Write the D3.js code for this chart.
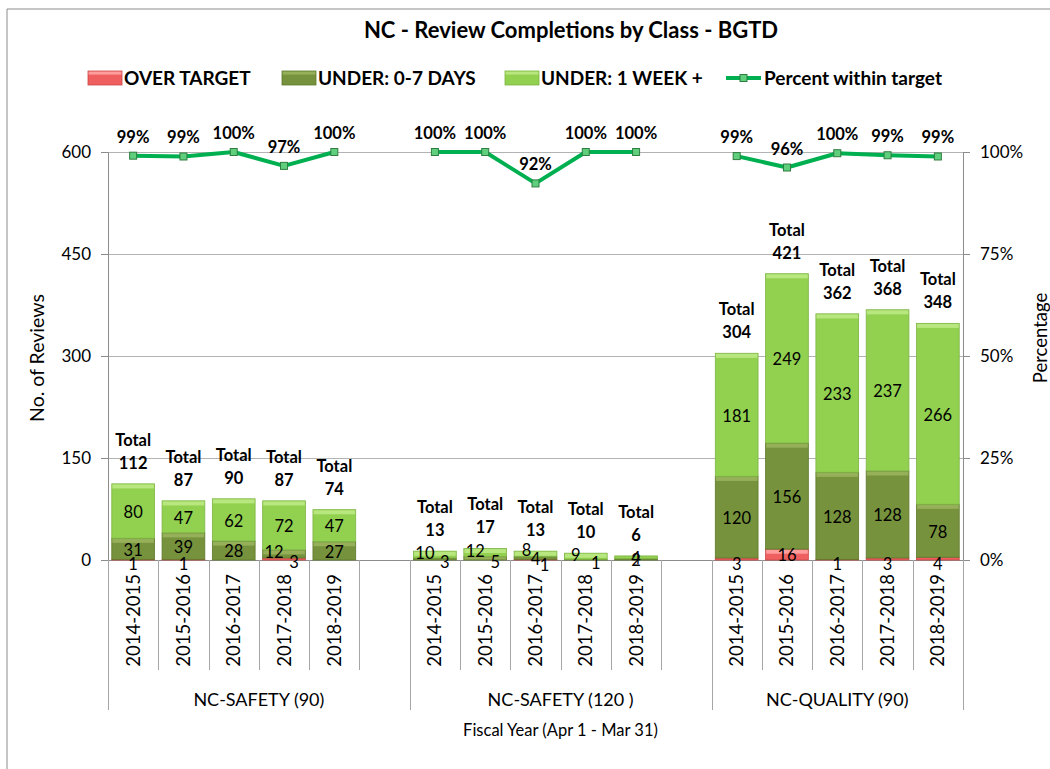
<!DOCTYPE html>
<html>
<head>
<meta charset="utf-8">
<script src="https://cdn.jsdelivr.net/npm/d3@7"></script>
<style>
  html, body { margin: 0; padding: 0; background: #fff; }
  svg { display: block; }
  text { font-family: Lato, "Liberation Sans", sans-serif; fill: #000; }
</style>
</head>
<body>
<svg id="chart" width="1050" height="769"></svg>
<script>
// ---------------- data ----------------
const groups = ["NC-SAFETY (90)", "NC-SAFETY (120 )", "NC-QUALITY (90)"];
const years = ["2014-2015", "2015-2016", "2016-2017", "2017-2018", "2018-2019"];
const seriesNames = ["OVER TARGET", "UNDER: 0-7 DAYS", "UNDER: 1 WEEK +"];
const lineName = "Percent within target";
const overTarget = [1, 1, 0, 3, 0,   0, 0, 1, 0, 0,   3, 16, 1, 3, 4];
const under07    = [31, 39, 28, 12, 27,   3, 5, 4, 1, 2,   120, 156, 128, 128, 78];
const underWeek  = [80, 47, 62, 72, 47,   10, 12, 8, 9, 4,   181, 249, 233, 237, 266];
const totals     = [112, 87, 90, 87, 74,   13, 17, 13, 10, 6,   304, 421, 362, 368, 348];
const pctWithin  = [0.991, 0.989, 1.0, 0.966, 1.0,   1.0, 1.0, 0.923, 1.0, 1.0,   0.990, 0.962, 0.997, 0.992, 0.989];
const pctLabels  = ["99%", "99%", "100%", "97%", "100%",   "100%", "100%", "92%", "100%", "100%",   "99%", "96%", "100%", "99%", "99%"];
const leftTicks = [0, 150, 300, 450, 600];
const rightTicks = [0, 0.25, 0.5, 0.75, 1];

// ---------------- layout ----------------
const svg = d3.select("#chart");
const W = 1050, H = 769;
const plot = { left: 108, right: 963, top: 152, bottom: 560 };

const colors = [
  { body: "#ef5f5f", top: "#ff9d9d", stroke: "#c84848" },
  { body: "#76923c", top: "#96b05a", stroke: "#5f7a2c" },
  { body: "#92d050", top: "#b7e77e", stroke: "#7db543" }
];
const lineColor = "#00b050";

// frame
svg.append("path").attr("d", `M7,${H} V9 H${W}`).attr("fill", "none").attr("stroke", "#8c8c8c").attr("stroke-width", 1);

// slots: 5 per group + 1 empty gap slot after groups 0 and 1
const slotCount = groups.length * 6 - 1;
const slotKeys = d3.range(slotCount);
const x = d3.scaleBand().domain(slotKeys).range([plot.left, plot.right]).paddingInner(0.15).paddingOuter(0.075);
const y = d3.scaleLinear().domain([0, 600]).range([plot.bottom, plot.top]);
const yp = d3.scaleLinear().domain([0, 1]).range([plot.bottom, plot.top]);

const items = [];
groups.forEach((g, gi) => years.forEach((yr, yi) => {
  const i = gi * 5 + yi;
  items.push({ i, gi, yi, slot: gi * 6 + yi, year: yr, group: g,
    vals: [overTarget[i], under07[i], underWeek[i]], total: totals[i], pct: pctWithin[i], pctLabel: pctLabels[i] });
}));

// gridlines
svg.append("g").selectAll("line").data(leftTicks).join("line")
  .attr("x1", plot.left).attr("x2", plot.right)
  .attr("y1", d => Math.round(y(d)) + 0.5).attr("y2", d => Math.round(y(d)) + 0.5)
  .attr("stroke", "#b3b3b3").attr("stroke-width", 1);

// left axis
const gl = svg.append("g").attr("transform", `translate(${plot.left},0)`)
  .call(d3.axisLeft(y).tickValues(leftTicks).tickSize(7).tickPadding(10).tickFormat(d3.format("d")));
gl.select(".domain").attr("stroke", "#8c8c8c");
gl.selectAll(".tick line").attr("stroke", "#8c8c8c");
gl.selectAll(".tick text").style("font-family", "Lato, sans-serif").style("font-size", "17px").attr("fill", "#000");

// right axis
const gr = svg.append("g").attr("transform", `translate(${plot.right},0)`)
  .call(d3.axisRight(yp).tickValues(rightTicks).tickSize(7).tickPadding(10).tickFormat(d3.format(".0%")));
gr.select(".domain").attr("stroke", "#8c8c8c");
gr.selectAll(".tick line").attr("stroke", "#8c8c8c");
gr.selectAll(".tick text").style("font-family", "Lato, sans-serif").style("font-size", "17px").attr("fill", "#000");

// x axis category boxes
const xa = svg.append("g");
xa.append("line").attr("x1", plot.left).attr("x2", plot.right).attr("y1", plot.bottom + 0.5).attr("y2", plot.bottom + 0.5).attr("stroke", "#8c8c8c");
const slotLeft = s => plot.left + (plot.right - plot.left) * s / slotCount;
d3.range(1, slotCount).forEach(s => {
  const isGroupBoundary = s % 6 === 0;
  xa.append("line").attr("x1", Math.round(slotLeft(s)) + 0.5).attr("x2", Math.round(slotLeft(s)) + 0.5)
    .attr("y1", plot.bottom).attr("y2", isGroupBoundary ? 710 : 670)
    .attr("stroke", "#a6a6a6");
});
[0, slotCount].forEach(s => {
  xa.append("line").attr("x1", Math.round(slotLeft(s)) + 0.5).attr("x2", Math.round(slotLeft(s)) + 0.5)
    .attr("y1", plot.bottom).attr("y2", 710).attr("stroke", "#a6a6a6");
});
xa.selectAll("text.year").data(items).join("text").attr("class", "year")
  .attr("transform", d => `translate(${x(d.slot) + x.bandwidth() / 2 + 6.5},574) rotate(-90)`)
  .attr("text-anchor", "end").style("font-size", "18.5px").text(d => d.year);
groups.forEach((g, gi) => {
  const a = slotLeft(gi * 6), b = gi === groups.length - 1 ? slotLeft(slotCount) : slotLeft(gi * 6 + 6);
  xa.append("text").attr("x", (a + b) / 2).attr("y", 706).attr("text-anchor", "middle")
    .style("font-size", "18px").text(g);
});
svg.append("text").attr("x", (plot.left + plot.right) / 2 + 25).attr("y", 736).attr("text-anchor", "middle")
  .style("font-size", "16.5px").text("Fiscal Year (Apr 1 - Mar 31)");

// axis titles
svg.append("text").attr("transform", `translate(44,${(plot.top + plot.bottom) / 2 + 2}) rotate(-90)`)
  .attr("text-anchor", "middle").style("font-size", "19.5px").text("No. of Reviews");
svg.append("text").attr("transform", `translate(1047,${(plot.top + plot.bottom) / 2 - 18}) rotate(-90)`)
  .attr("text-anchor", "middle").style("font-size", "18.5px").text("Percentage");

// bars
const bw = x.bandwidth();
const barsG = svg.append("g");
items.forEach(d => {
  let cum = 0;
  const segs = d.vals.map((v, si) => { const s = { si, v, y0: cum, y1: cum + v }; cum += v; return s; });
  const gx = x(d.slot);
  segs.forEach(s => {
    if (s.v <= 0) return;
    const yt = y(s.y1), yb = y(s.y0), h = yb - yt;
    const c = colors[s.si];
    barsG.append("rect").attr("x", gx).attr("y", yt).attr("width", bw).attr("height", h)
      .attr("fill", c.body).attr("stroke", c.stroke).attr("stroke-width", 0.8);
    if (h > 3) {
      barsG.append("rect").attr("x", gx + 0.6).attr("y", yt + 0.6).attr("width", bw - 1.2).attr("height", Math.min(4, h - 1.2))
        .attr("fill", c.top);
    }
  });
  d.segs = segs;
});

// segment labels
const labG = svg.append("g").style("font-size", "16.5px");
items.forEach(d => {
  const cx = x(d.slot) + bw / 2;
  const shown = d.segs.filter(s => s.v > 0);
  const barH = y(0) - y(d.total);
  const small = shown.filter(s => y(s.y0) - y(s.y1) < 10).sort((a, b) => b.si - a.si);
  const spread = barH >= 5 && small.length >= 2;
  shown.forEach(s => {
    let cy = (y(s.y0) + y(s.y1)) / 2;
    let dx = 0, dy = 0;
    if (spread && small.includes(s)) {
      const k = small.indexOf(s), n = small.length;
      const sp = n === 2 ? 20 : 9;
      dx = (k - (n - 1) / 2) * sp;
      dy = (k - (n - 1) / 2) * 5;
    } else if (!spread && s.y0 === 0 && y(s.y0) - y(s.y1) < 4 && barH > 10) {
      cy = plot.bottom + 3;
    }
    labG.append("text").attr("x", cx + dx).attr("y", cy + dy + 1).attr("dy", "0.35em")
      .attr("text-anchor", "middle").text(s.v);
  });
  const top = y(d.total);
  const t = svg.append("text").attr("text-anchor", "middle").style("font-size", "16.5px").style("font-weight", "bold");
  t.append("tspan").attr("x", cx).attr("y", top - 38).text("Total");
  t.append("tspan").attr("x", cx).attr("y", top - 15).text(d.total);
});

// percent line (one per group)
const line = d3.line().x(d => x(d.slot) + bw / 2).y(d => yp(d.pct));
const lineG = svg.append("g");
groups.forEach((g, gi) => {
  const pts = items.filter(d => d.gi === gi);
  lineG.append("path").attr("d", line(pts)).attr("fill", "none").attr("stroke", lineColor)
    .attr("stroke-width", 4).attr("stroke-linejoin", "round");
  pts.forEach(p => {
    lineG.append("rect").attr("x", x(p.slot) + bw / 2 - 3.5).attr("y", yp(p.pct) - 3.5).attr("width", 7).attr("height", 7)
      .attr("fill", "#5fcf7e").attr("stroke", "#2f7d3f").attr("stroke-width", 1);
    svg.append("text").attr("x", x(p.slot) + bw / 2).attr("y", yp(p.pct) - 13).attr("text-anchor", "middle")
      .style("font-size", "16.5px").style("font-weight", "bold").text(p.pctLabel);
  });
});

// title
svg.append("text").attr("x", 571).attr("y", 38).attr("text-anchor", "middle")
  .style("font-size", "22px").style("font-weight", "bold").text("NC - Review Completions  by Class - BGTD");

// legend
const lg = svg.append("g").style("font-size", "19px").style("font-weight", "bold");
const legendX = [88, 282, 505];
seriesNames.forEach((n, si) => {
  const c = colors[si];
  lg.append("rect").attr("x", legendX[si]).attr("y", 71).attr("width", 34).attr("height", 14)
    .attr("fill", c.body).attr("stroke", c.stroke).attr("stroke-width", 0.8);
  lg.append("rect").attr("x", legendX[si] + 0.6).attr("y", 71.6).attr("width", 32.8).attr("height", 3).attr("fill", c.top);
  lg.append("text").attr("x", legendX[si] + 36).attr("y", 85).text(n);
});
lg.append("line").attr("x1", 726).attr("x2", 761).attr("y1", 78).attr("y2", 78).attr("stroke", lineColor).attr("stroke-width", 4);
lg.append("rect").attr("x", 740).attr("y", 74.5).attr("width", 7).attr("height", 7).attr("fill", "#5fcf7e").attr("stroke", "#2f7d3f");
lg.append("text").attr("x", 764).attr("y", 85).text(lineName);
</script>
</body>
</html>
